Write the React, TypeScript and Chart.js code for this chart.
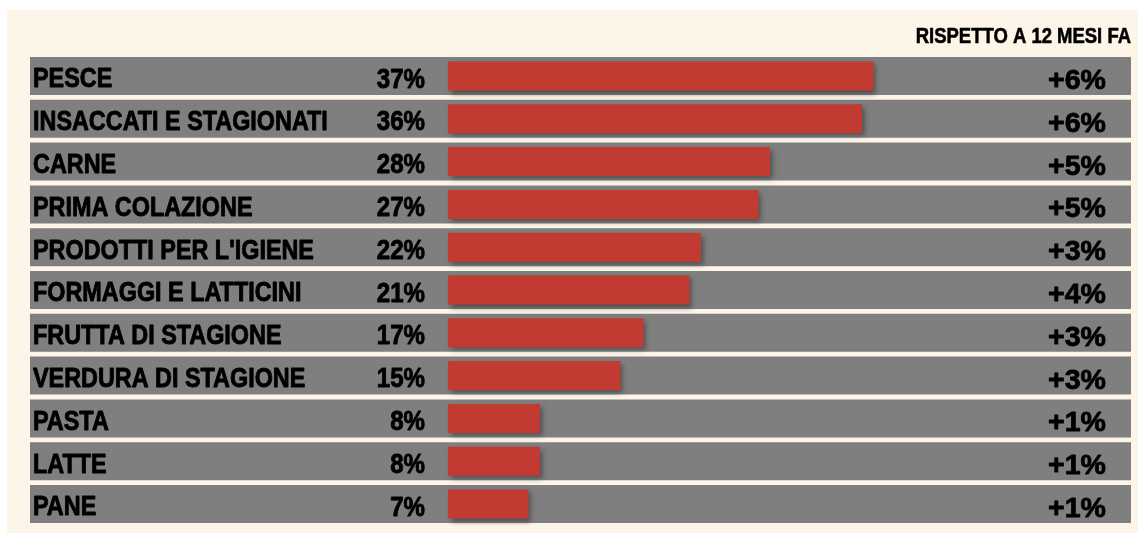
import React, { useEffect, useRef } from "react";
import { Chart, registerables } from "chart.js";

Chart.register(...registerables);

const categories = [
  "PESCE",
  "INSACCATI E STAGIONATI",
  "CARNE",
  "PRIMA COLAZIONE",
  "PRODOTTI PER L'IGIENE",
  "FORMAGGI E LATTICINI",
  "FRUTTA DI STAGIONE",
  "VERDURA DI STAGIONE",
  "PASTA",
  "LATTE",
  "PANE",
];
const shares = [37, 36, 28, 27, 22, 21, 17, 15, 8, 8, 7];
const changes = [6, 6, 5, 5, 3, 4, 3, 3, 1, 1, 1];
const headerText = "RISPETTO A 12 MESI FA";

const X_MIN = -36.35;
const X_MAX = 59.4;

const CREAM = "#fef5e9";
const GRAY = "#7f7f7f";
const RED = "#c23b33";
const FONT = '"Liberation Sans", Arial, Helvetica, sans-serif';

function drawText(
  ctx: CanvasRenderingContext2D,
  text: string,
  x: number,
  y: number,
  size: number,
  scaleX: number,
  align: "left" | "right",
  weight: number
) {
  ctx.save();
  ctx.font = `bold ${size}px ${FONT}`;
  ctx.fillStyle = "#000000";
  ctx.strokeStyle = "#000000";
  ctx.lineWidth = weight;
  ctx.lineJoin = "round";
  ctx.textBaseline = "alphabetic";
  ctx.textAlign = align;
  ctx.translate(x, y);
  ctx.scale(scaleX, 1);
  ctx.fillText(text, 0, 0);
  if (weight > 0) ctx.strokeText(text, 0, 0);
  ctx.restore();
}

const decorPlugin = {
  id: "decor",
  beforeDraw(chart: any) {
    const ctx = chart.ctx as CanvasRenderingContext2D;
    ctx.save();
    ctx.fillStyle = CREAM;
    ctx.fillRect(7, 10, chart.width - 7, chart.height - 15);
    ctx.restore();
  },
  beforeDatasetDraw(chart: any, args: any) {
    if (args.index === 1) {
      const ctx = chart.ctx as CanvasRenderingContext2D;
      ctx.save();
      ctx.shadowColor = "rgba(40,40,40,0.55)";
      ctx.shadowOffsetX = 3;
      ctx.shadowOffsetY = 3;
      ctx.shadowBlur = 5;
    }
  },
  afterDatasetDraw(chart: any, args: any) {
    if (args.index === 1) {
      chart.ctx.restore();
    }
  },
  afterDatasetsDraw(chart: any) {
    const ctx = chart.ctx as CanvasRenderingContext2D;
    const y = chart.scales.y;
    const x = chart.scales.x;
    const area = chart.chartArea;
    const zeroPx = x.getPixelForValue(0);
    categories.forEach((cat, i) => {
      const cy = y.getPixelForValue(i);
      drawText(ctx, cat, area.left + 3, cy + 11.3, 28, 0.835, "left", 0.9);
      drawText(ctx, `${shares[i]}%`, zeroPx - 23, cy + 11.5, 28, 0.86, "right", 0.9);
      drawText(ctx, `+${changes[i]}%`, area.right - 25, cy + 13, 28, 1.02, "right", 0.8);
    });
    drawText(ctx, headerText, area.right, 43.3, 22, 0.84, "right", 0.6);
  },
};

export default function App() {
  const ref = useRef<HTMLCanvasElement>(null);
  useEffect(() => {
    document.body.style.margin = "0";
    const canvas = ref.current!;
    const chart = new Chart(canvas, {
      type: "bar",
      data: {
        labels: categories,
        datasets: [
          {
            label: "bg",
            data: categories.map(() => [X_MIN, X_MAX]) as any,
            backgroundColor: GRAY,
            barPercentage: 0.888,
            categoryPercentage: 1,
            grouped: false,
            order: 2,
            borderSkipped: false,
          } as any,
          {
            label: "share",
            data: shares,
            backgroundColor: RED,
            barPercentage: 0.678,
            categoryPercentage: 1,
            grouped: false,
            order: 1,
          } as any,
        ],
      },
      options: {
        indexAxis: "y",
        animation: false,
        responsive: false,
        maintainAspectRatio: false,
        layout: { padding: { left: 30, right: 7, top: 54.6, bottom: 12.6 } },
        plugins: {
          legend: { display: false },
          tooltip: { enabled: false },
          title: { display: false },
        },
        scales: {
          x: { type: "linear", min: X_MIN, max: X_MAX, display: false },
          y: { type: "category", display: false, offset: true, grid: { display: false } },
        },
      },
      plugins: [decorPlugin],
    });
    return () => chart.destroy();
  }, []);
  return (
    <div style={{ position: "absolute", left: 0, top: 0, width: 1138, height: 538, background: "#ffffff" }}>
      <canvas ref={ref} width={1138} height={538} style={{ width: 1138, height: 538, display: "block" }} />
    </div>
  );
}
